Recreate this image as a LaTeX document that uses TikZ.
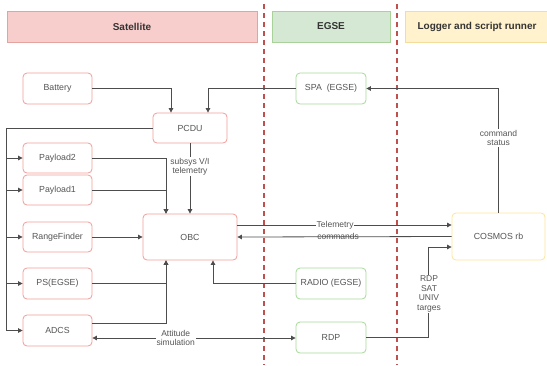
\documentclass[tikz,border=0pt]{standalone}
\usepackage{fontspec}
\setmainfont{Liberation Sans}
\usetikzlibrary{arrows.meta,calc}

\definecolor{satF}{HTML}{F8CECC}
\definecolor{satH}{HTML}{E5A3A0}
\definecolor{egsF}{HTML}{D5E8D4}
\definecolor{egsH}{HTML}{A9D19A}
\definecolor{logF}{HTML}{FFF2CC}
\definecolor{logH}{HTML}{F3DC9C}
\definecolor{satB}{HTML}{F19C99}
\definecolor{egsB}{HTML}{A7D99A}
\definecolor{logB}{HTML}{FFE599}
\definecolor{txt}{HTML}{555555}
\definecolor{hdrtxt}{HTML}{333333}
\definecolor{wireC}{HTML}{4D4D4D}
\definecolor{sepC}{HTML}{C0504D}

\tikzset{
  box/.style={draw, rounded corners=4pt, fill=white, inner sep=0pt,
    minimum width=69pt, minimum height=31pt, line width=0.8pt,
    font=\fontsize{8.8}{10}\selectfont, text=txt},
  satbox/.style={box, draw=satB},
  egsbox/.style={box, draw=egsB},
  hdr/.style={draw, line width=0.8pt, minimum height=31pt, inner sep=0pt,
    font=\fontsize{10}{12}\selectfont\bfseries, text=hdrtxt},
  sep/.style={draw=sepC, line width=1.6pt, dash pattern=on 5pt off 4pt},
  wire/.style={draw=wireC, line width=0.8pt},
  arr/.style={wire, -{Triangle[length=4.5pt,width=4.5pt]}},
  biarr/.style={wire, {Triangle[length=4.5pt,width=4.5pt]}-{Triangle[length=4.5pt,width=4.5pt]}},
  lbl/.style={font=\fontsize{8.5}{9.5}\selectfont, text=txt, align=center, inner sep=1pt},
}

\begin{document}
\begin{tikzpicture}[x=1pt,y=-1pt]
  \useasboundingbox (0,0) rectangle (547,365);

  % column headers
  \node[hdr, fill=satF, draw=satH, minimum width=250pt] (hsat) at (132,26.5) {Satellite};
  \node[hdr, fill=egsF, draw=egsH, minimum width=118pt] (hegs) at (331,26.5) {EGSE};
  \node[hdr, fill=logF, draw=logH, minimum width=144pt] (hlog) at (477,26.5) {Logger and script runner};

  % column separators
  \coordinate (s1t) at (264,4);  \coordinate (s1b) at (264,365);
  \coordinate (s2t) at (397,4);  \coordinate (s2b) at (397,365);
  \draw[sep] (s1t) -- (s1b);
  \draw[sep] (s2t) -- (s2b);

  % satellite blocks
  \node[satbox] (bat)  at (57.5,88.5)  {Battery};
  \node[satbox, minimum width=74pt, minimum height=30pt] (pcdu) at (190,128) {PCDU};
  \node[satbox, minimum height=30pt] (pay2) at (57.5,158) {Payload2};
  \node[satbox, minimum height=30pt] (pay1) at (57.5,190) {Payload1};
  \node[satbox, minimum height=30pt] (rf)   at (57.5,237) {RangeFinder};
  \node[satbox, minimum width=94pt, minimum height=46pt] (obc) at (190,237) {OBC};
  \node[satbox] (ps)   at (57.5,283.5) {PS(EGSE)};
  \node[satbox] (adcs) at (57.5,330.5) {ADCS};

  % EGSE blocks
  \node[egsbox, minimum width=70pt] (spa)   at (331,88.5)  {SPA\ \ (EGSE)};
  \node[egsbox, minimum width=70pt] (radio) at (331,283.5) {RADIO (EGSE)};
  \node[egsbox, minimum width=70pt] (rdp)   at (331,337.5) {RDP};

  % logger
  \node[box, draw=logB, minimum width=93pt, minimum height=47pt] (cosmos) at (498.5,236.5) {COSMOS rb};

  % power supply into PCDU
  \draw[arr] (bat.east) -| ($(pcdu.north)+(-19,0)$);
  \draw[arr] (spa.west) -| ($(pcdu.north)+(18,0)$);
  \draw[arr] (cosmos.north) |- (spa.east)
    node[lbl, fill=white, pos=0.3] {command\\status};

  % PCDU power bus to subsystems
  \draw[arr] (pcdu.west) -| ($(pay2.west)+(-16,0)$) -- (pay2.west);
  \draw[arr] (pcdu.west) -| ($(pay1.west)+(-16,0)$) -- (pay1.west);
  \draw[arr] (pcdu.west) -| ($(rf.west)+(-16,0)$) -- (rf.west);
  \draw[arr] (pcdu.west) -| ($(ps.west)+(-16,0)$) -- (ps.west);
  \draw[arr] (pcdu.west) -| ($(adcs.west)+(-16,0)$) -- (adcs.west);

  % data into OBC
  \draw[arr] (pcdu.south) -- (obc.north)
    node[lbl, fill=white, pos=0.33] {subsys V/I\\telemetry};
  \draw[arr] (pay2.east) -| ($(obc.north)+(-24,0)$);
  \draw[arr] (pay1.east) -| ($(obc.north)+(-24,0)$);
  \draw[arr] (rf.east) -- (obc.west);
  \draw[arr] (ps.east) -| ($(obc.south)+(-24,0)$);
  \coordinate (adcsOut) at ($(adcs.east)+(0,-7.5)$);
  \draw[arr] (adcsOut) -| ($(obc.south)+(-24,0)$);
  \draw[arr] (radio.west) -| ($(obc.south)+(23,0)$);

  % OBC <-> COSMOS
  \coordinate (tmOut) at ($(obc.east)+(0,-12)$);
  \draw[arr] (tmOut) -- (tmOut -| cosmos.west)
    node[lbl, fill=white, pos=0.456] {Telemetry};
  \draw[arr] (cosmos.west) -- (obc.east)
    node[lbl, pos=0.53] {commands};

  % attitude simulation loop
  \coordinate (att) at ($(adcs.east)+(0,7.5)$);
  \draw[biarr] (att) -- (att -| rdp.west)
    node[lbl, fill=white, pos=0.41] {Attitude\\simulation};

  % RDP targets to COSMOS
  \coordinate (rdpIn) at ($(cosmos.west)+(0,10.5)$);
  \draw[arr] (rdp.east) -| ($(rdpIn)+(-23,0)$) -- (rdpIn);
  \node[lbl, fill=white] (rdplbl) at (429,294) {RDP\\SAT\\UNIV\\targes};
\end{tikzpicture}
\end{document}
